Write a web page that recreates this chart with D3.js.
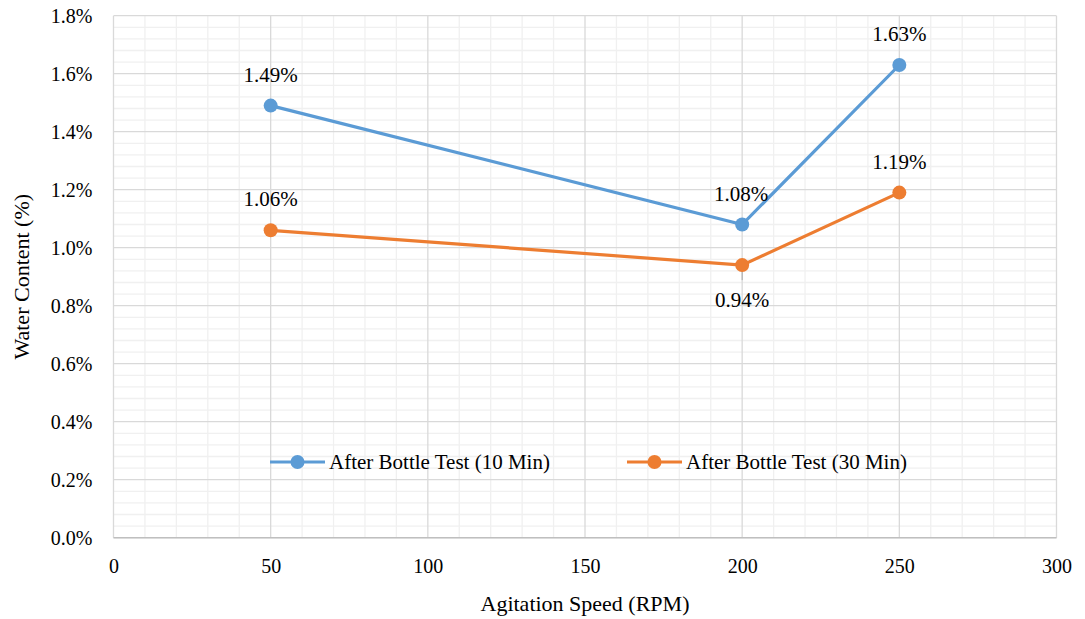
<!DOCTYPE html>
<html><head><meta charset="utf-8">
<script src="https://cdn.jsdelivr.net/npm/d3@7"></script>
</head><body style="margin:0">
<svg id="c" width="1085" height="619" style="display:block"></svg>
<script>
const speeds = [50, 200, 250];
const series10 = [1.49, 1.08, 1.63];
const series30 = [1.06, 0.94, 1.19];
const seriesNames = ["After Bottle Test (10 Min)", "After Bottle Test (30 Min)"];
const xTicks = [0, 50, 100, 150, 200, 250, 300];
const yTicks = [0, 0.2, 0.4, 0.6, 0.8, 1.0, 1.2, 1.4, 1.6, 1.8];
const colors = ["#5B9BD5", "#ED7D31"];

const svg = d3.select("#c");
const L = 113.5, R = 1056.5, T = 15.7, B = 537.7;
const x = d3.scaleLinear().domain([0, 300]).range([L, R]);
const y = d3.scaleLinear().domain([0, 1.8]).range([B, T]);

const g = svg.append("g");
d3.range(0, 301, 10).filter(v => v % 50 !== 0).forEach(v => {
  g.append("line").attr("x1", x(v)).attr("x2", x(v)).attr("y1", T).attr("y2", B).attr("stroke", "#f0f0f0").attr("stroke-width", 1.3);
});
d3.range(0, 46).map(i => i * 0.04).filter((v, i) => i % 5 !== 0).forEach(v => {
  g.append("line").attr("x1", L).attr("x2", R).attr("y1", y(v)).attr("y2", y(v)).attr("stroke", "#f0f0f0").attr("stroke-width", 1.3);
});
xTicks.forEach(v => g.append("line").attr("x1", x(v)).attr("x2", x(v)).attr("y1", T).attr("y2", B).attr("stroke", "#d9d9d9").attr("stroke-width", 1.3));
yTicks.forEach(v => g.append("line").attr("x1", L).attr("x2", R).attr("y1", y(v)).attr("y2", y(v)).attr("stroke", "#d9d9d9").attr("stroke-width", 1.3));
g.append("line").attr("x1", L).attr("x2", R).attr("y1", B).attr("y2", B).attr("stroke", "#bfbfbf").attr("stroke-width", 1.5);

// tick labels: font "Times New Roman"
const xa = svg.append("g").attr("transform", `translate(0,${B})`)
  .call(d3.axisBottom(x).tickValues(xTicks).tickSize(0).tickPadding(21));
xa.select(".domain").remove();
xa.attr("font-family", "Times New Roman").attr("font-size", 20);
xa.selectAll("text").attr("fill", "#000");
const ya = svg.append("g").attr("transform", `translate(${L},0)`)
  .call(d3.axisLeft(y).tickValues(yTicks).tickSize(0).tickPadding(21).tickFormat(d => d.toFixed(1) + "%"));
ya.select(".domain").remove();
ya.attr("font-family", "Times New Roman").attr("font-size", 20);
ya.selectAll("text").attr("fill", "#000");

// titles: Tinos
svg.append("text").attr("x", (L + R) / 2).attr("y", 611).attr("text-anchor", "middle")
  .attr("font-family", "Tinos").attr("font-size", 22).text("Agitation Speed (RPM)");
svg.append("text").attr("transform", `translate(29,${(T + B) / 2}) rotate(-90)`).attr("text-anchor", "middle")
  .attr("font-family", "Tinos").attr("font-size", 22).text("Water Content (%)");

svg.append("line").attr("x1", x(200)).attr("x2", x(200)).attr("y1", y(0.94) + 3).attr("y2", y(0.94) + 15).attr("stroke", "#a6a6a6").attr("stroke-width", 1);

const line = d3.line().x(d => x(d[0])).y(d => y(d[1]));
[series10, series30].forEach((s, i) => {
  const pts = speeds.map((v, j) => [v, s[j]]);
  svg.append("path").attr("d", line(pts)).attr("fill", "none").attr("stroke", colors[i]).attr("stroke-width", 3.2);
  svg.selectAll(null).data(pts).enter().append("circle").attr("cx", d => x(d[0])).attr("cy", d => y(d[1])).attr("r", 7).attr("fill", colors[i]);
});

// data labels: Liberation Serif via attr
const labelOffsets10 = [[0, -24], [-1, -24], [0, -24]];
const labelOffsets30 = [[0, -24], [0, 42], [0, -24]];
[[series10, labelOffsets10], [series30, labelOffsets30]].forEach(([s, offs]) => {
  s.forEach((v, j) => {
    svg.append("text").attr("x", x(speeds[j]) + offs[j][0]).attr("y", y(v) + offs[j][1]).attr("text-anchor", "middle")
      .attr("font-family", "Liberation Serif").attr("font-size", 21).text(v.toFixed(2) + "%");
  });
});

// legend: FreeSerif style
const legX = [270, 627];
seriesNames.forEach((n, i) => {
  const lg = svg.append("g").attr("transform", `translate(${legX[i]},462)`);
  lg.append("line").attr("x1", 0).attr("x2", 55).attr("y1", 0).attr("y2", 0).attr("stroke", colors[i]).attr("stroke-width", 3.2);
  lg.append("circle").attr("cx", 27.5).attr("cy", 0).attr("r", 7).attr("fill", colors[i]);
  lg.append("text").attr("x", 59).attr("y", 7).style("font-family", "Times New Roman, Liberation Serif, serif").attr("font-size", 21).text(n);
});
</script>
</body></html>
